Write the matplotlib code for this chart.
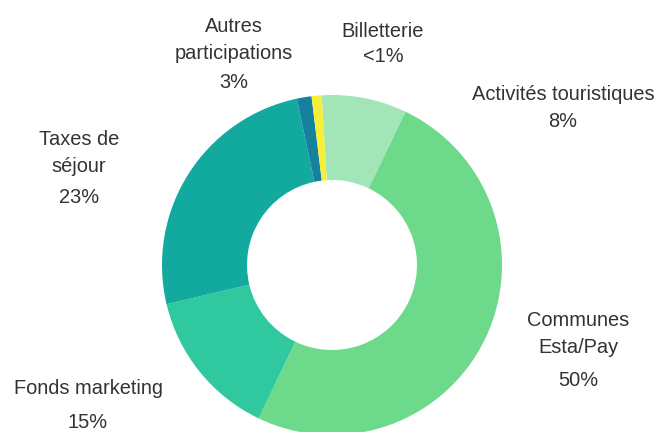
import matplotlib
matplotlib.use("Agg")
import matplotlib.pyplot as plt

# parts of the budget, clockwise from the top
labels = ["Activités touristiques", "Communes\nEsta/Pay", "Fonds marketing",
          "Taxes de\nséjour", "Autres\nparticipations", "Billetterie"]
shares = [8.1, 50.0, 14.2, 25.4, 1.4, 0.95]
pct_text = ["8%", "50%", "15%", "23%", "3%", "<1%"]
colors = ["#a2e5b6", "#6cd98b", "#30c89f", "#12a99f", "#16809f", "#f6ef3a"]

# label placement in pixels of the 666x432 picture (x, name y, percent y)
label_px = [(563, 95, 122), (578, 334, 380), (88, 388, 423),
            (79, 153, 198), (234, 40, 83), (383, 32, 57)]

plt.rcParams['font.family'] = ['Liberation Sans', 'DejaVu Sans']

fig = plt.figure(figsize=(6.66, 4.32), dpi=100)
W, H = 666, 432
cx, cy, r = 332, 265, 170
ax = fig.add_axes([(cx - r) / W, (H - cy - r) / H, 2 * r / W, 2 * r / H])

ax.pie(shares, colors=colors, startangle=93.5, counterclock=False,
       radius=1.0, wedgeprops=dict(width=0.5, linewidth=0))
ax.set_xlim(-1, 1)
ax.set_ylim(-1, 1)
ax.set_aspect('auto')
ax.axis('off')


def to_data(px, py):
    return (px - cx) / r, (cy - py) / r


for name, pct, (px, ny, py) in zip(labels, pct_text, label_px):
    x, y = to_data(px, ny)
    ax.text(x, y, name, ha='center', va='center', fontsize=14.4,
            color='#333333', linespacing=1.5, clip_on=False)
    x, y = to_data(px, py)
    ax.text(x, y, pct, ha='center', va='center', fontsize=14.4,
            color='#333333', clip_on=False)

fig.savefig("out.png", dpi=100)
